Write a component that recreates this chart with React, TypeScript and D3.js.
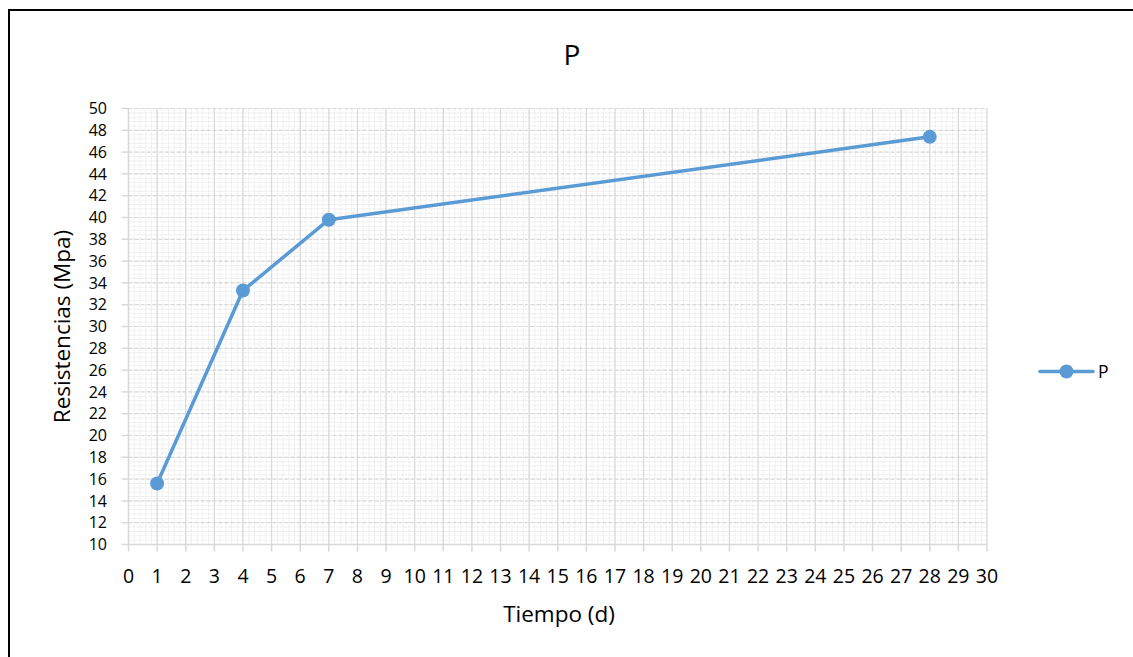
import React from "react";
import * as d3 from "d3";

const seriesName = "P";
const days = [1, 4, 7, 28];
const strength = [15.6, 33.3, 39.8, 47.4];
const xTicks = d3.range(0, 31, 1);
const yTicks = d3.range(10, 51, 2);
const xMinor = d3.range(0, 30.001, 0.2);
const yMinor = d3.range(10, 50.001, 0.4);

const W = 1133;
const H = 657;
const FONT = "'Open Sans', 'Noto Sans', sans-serif";

export default function App() {
  const x = d3.scaleLinear().domain([0, 30]).range([128.5, 987]);
  const y = d3.scaleLinear().domain([10, 50]).range([544.5, 108.5]);
  const pts = days.map((d, i) => [x(d), y(strength[i])] as [number, number]);
  const line = d3.line()(pts) || "";
  const blue = "#5b9bd5";
  const grid = "#d9d9d9";
  const minor = "#ececec";
  return (
    <svg width={W} height={H} style={{ position: "absolute", left: 0, top: 0 }}>
      <rect x={0} y={0} width={W} height={H} fill="#fff" />
      <rect x={9} y={10} width={W + 20} height={H + 20} fill="none" stroke="#000" strokeWidth={2} />
      <text x={572} y={65} fontFamily={FONT} fontSize={28} textAnchor="middle" fill="#000">{seriesName}</text>
      {xMinor.map((v, i) => (
        <line key={"xm" + i} x1={x(v)} x2={x(v)} y1={y(50)} y2={y(10)} stroke={minor} strokeWidth={1} strokeDasharray="3,1" />
      ))}
      {yMinor.map((v, i) => (
        <line key={"ym" + i} x1={x(0)} x2={x(30)} y1={y(v)} y2={y(v)} stroke={minor} strokeWidth={1} strokeDasharray="3,1" />
      ))}
      {yTicks.map((v) => (
        <line key={"yg" + v} x1={x(0)} x2={x(30)} y1={y(v)} y2={y(v)} stroke={grid} strokeWidth={1.2} strokeDasharray="4,2" />
      ))}
      {xTicks.map((v) => (
        <line key={"xg" + v} x1={x(v)} x2={x(v)} y1={y(50)} y2={y(10)} stroke={grid} strokeWidth={1.2} />
      ))}
      <line x1={x(0)} x2={x(30)} y1={y(10)} y2={y(10)} stroke={grid} strokeWidth={1.5} />
      <line x1={x(0)} x2={x(0)} y1={y(10)} y2={y(50)} stroke={grid} strokeWidth={1.5} />
      {xTicks.map((v) => (
        <g key={"xt" + v}>
          <line x1={x(v)} x2={x(v)} y1={y(10)} y2={y(10) + 7} stroke={grid} strokeWidth={1.5} />
          <text x={x(v)} y={583} fontFamily={FONT} fontSize={19.5} textAnchor="middle" fill="#000">{v}</text>
        </g>
      ))}
      {yTicks.map((v) => (
        <g key={"yt" + v}>
          <line x1={x(0) - 7} x2={x(0)} y1={y(v)} y2={y(v)} stroke={grid} strokeWidth={1.5} />
          <text x={107} y={y(v)} dy="0.35em" fontFamily={FONT} fontSize={16} textAnchor="end" fill="#000">{v}</text>
        </g>
      ))}
      <path d={line} fill="none" stroke={blue} strokeWidth={3.5} strokeLinejoin="round" />
      {pts.map((p, i) => (
        <circle key={"pt" + i} cx={p[0]} cy={p[1]} r={7} fill={blue} />
      ))}
      <text x={559} y={622} fontFamily={FONT} fontSize={22.5} textAnchor="middle" fill="#000">Tiempo (d)</text>
      <text transform={`translate(70,${(y(10) + y(50)) / 2}) rotate(-90)`} fontFamily={FONT} fontSize={22.5} textAnchor="middle" fill="#000">Resistencias (Mpa)</text>
      <line x1={1040} x2={1093} y1={371.5} y2={371.5} stroke={blue} strokeWidth={3.5} strokeLinecap="round" />
      <circle cx={1066.5} cy={371.5} r={7} fill={blue} />
      <text x={1098} y={377.5} fontFamily={FONT} fontSize={17.5} fill="#000">{seriesName}</text>
    </svg>
  );
}
